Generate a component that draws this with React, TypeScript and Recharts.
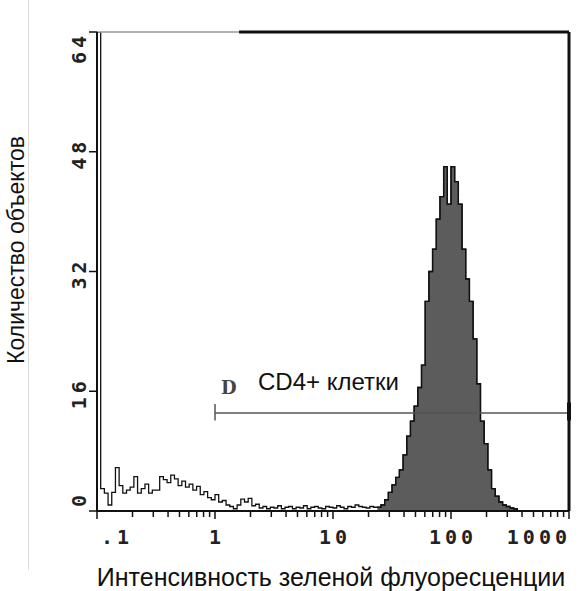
import React from "react";
import {
  Area,
  ComposedChart,
  ReferenceLine,
  XAxis,
  YAxis,
} from "recharts";

// 32 log channels per decade, channel 0 = 0.1
const CHANNELS_PER_DECADE = 32;

// counts, channels 0..75 (outline only, below the peak)
const LOW_COUNTS = [
  64, 3.0, 2.4, 0.8, 2.5, 5.8, 3.4, 2.4, 2.8, 3.2, 4.6, 2.4, 3.0, 3.6, 2.4, 2.8,
  2.8, 4.6, 4.2, 3.8, 4.8, 4.3, 3.4, 4.0, 3.2, 3.6, 2.8, 3.3, 2.2, 2.6, 1.8, 1.5,
  2.2, 1.2, 1.4, 0.8, 0.6, 0.3, 0.8, 1.6, 1.2, 1.7, 0.7, 0.9, 0.4, 0.6, 0.3, 0.5,
  0.4, 0.7, 0.3, 0.5, 0.6, 0.3, 0.5, 0.4, 0.7, 0.3, 0.5, 0.6, 0.4, 0.3, 0.6, 0.5,
  0.4, 0.7, 0.5, 0.3, 0.6, 0.5, 0.8, 0.6, 0.5, 0.4, 0.6, 0.5,
];

// counts, channels 76..114 (the shaded CD4+ peak)
const PEAK_COUNTS = [
  0.5, 0.8, 1.5, 2.5, 3.5, 4.5, 5.5, 7.5, 10, 12, 14, 16.5, 19.5, 28, 32, 35,
  39, 42, 46, 41, 46, 44, 41, 35, 31, 28, 23, 17, 12, 9, 5.5, 3, 2, 1.2, 0.8,
  0.6, 0.4, 0.3, 0,
];

// counts, channels 115..128
const TAIL_COUNTS = [0, 0, 0, 0, 0, 0, 0, 0, 0, 0, 0, 0, 0, 0];

const MAJOR_TICKS = [0.1, 1, 10, 100, 1000];
const X_TICK_LABELS = [".1", "1", "10", "100", "1000"];
const Y_TICKS = [0, 16, 32, 48, 64];

const GATE_LEVEL = 13.1;
const GATE_FROM = 1;
const GATE_TO = 1000;

const PEAK_START = LOW_COUNTS.length;
const PEAK_END = PEAK_START + PEAK_COUNTS.length - 1;

const rows = [...LOW_COUNTS, ...PEAK_COUNTS, ...TAIL_COUNTS].map((c, k) => ({
  x: Math.pow(10, k / CHANNELS_PER_DECADE - 1),
  all: c,
  gated: k >= PEAK_START && k <= PEAK_END ? c : null,
}));

const minorTicks = MAJOR_TICKS.slice(0, -1).flatMap((d) =>
  [2, 3, 4, 5, 6, 7, 8, 9].map((m) => Number((d * m).toPrecision(3)))
);
const allXTicks = [...MAJOR_TICKS, ...minorTicks].sort((a, b) => a - b);

const TICK_FONT = "'DejaVu Sans Mono', monospace";

function XTick(props: any) {
  const { x, y, payload } = props;
  const i = MAJOR_TICKS.indexOf(payload.value);
  const major = i >= 0;
  const anchor = i === 0 ? "start" : i === MAJOR_TICKS.length - 1 ? "end" : "middle";
  const dx = i === 0 ? 4 : 2;
  return (
    <g>
      <line x1={x} x2={x} y1={y} y2={y + (major ? 8 : 6)} stroke="#111" strokeWidth={1.5} />
      {major && (
        <text
          x={x + dx}
          y={y + 33}
          textAnchor={anchor}
          fontFamily={TICK_FONT}
          fontWeight="bold"
          fontSize={20}
          letterSpacing={4}
          fill="#222"
        >
          {X_TICK_LABELS[i]}
        </text>
      )}
    </g>
  );
}

function YTick(props: any) {
  const { x, y, payload } = props;
  const i = Y_TICKS.indexOf(payload.value);
  const anchor = i === 0 ? "start" : i === Y_TICKS.length - 1 ? "end" : "middle";
  const dy = i === 0 ? -4 : i === Y_TICKS.length - 1 ? 0 : 2;
  const cx = x - 18;
  const cy = y + dy;
  return (
    <g>
      <line x1={x - 8} x2={x} y1={y} y2={y} stroke="#111" strokeWidth={1.5} />
      <text
        x={cx}
        y={cy}
        transform={`rotate(-90, ${cx}, ${cy})`}
        textAnchor={anchor}
        dominantBaseline="central"
        fontFamily={TICK_FONT}
        fontWeight="bold"
        fontSize={20}
        letterSpacing={4}
        fill="#222"
      >
        {payload.value}
      </text>
    </g>
  );
}

export default function App() {
  return (
    <div
      style={{
        position: "absolute",
        left: 0,
        top: 0,
        width: 582,
        height: 591,
        background: "#fff",
        fontFamily: "'Liberation Sans', Arial, sans-serif",
      }}
    >
      <div
        style={{
          position: "absolute",
          left: 28,
          top: 0,
          width: 1,
          height: 570,
          background: "#dcdcdc",
        }}
      />
      <ComposedChart
        width={582}
        height={591}
        data={rows}
        margin={{ top: 32, right: 13, left: 57, bottom: 40 }}
      >
        <XAxis
          dataKey="x"
          type="number"
          scale="log"
          domain={[0.1, 1000]}
          allowDataOverflow
          ticks={allXTicks}
          interval={0}
          tick={<XTick />}
          tickSize={0}
          tickMargin={0}
          tickLine={false}
          axisLine={{ stroke: "#111", strokeWidth: 2 }}
          height={40}
        />
        <YAxis
          type="number"
          domain={[0, 64]}
          allowDataOverflow
          ticks={Y_TICKS}
          interval={0}
          tick={<YTick />}
          tickSize={0}
          tickMargin={0}
          tickLine={false}
          axisLine={{ stroke: "#111", strokeWidth: 2 }}
          width={40}
        />
        <Area
          dataKey="gated"
          type="stepAfter"
          fill="#5c5c5c"
          fillOpacity={1}
          stroke="#111"
          strokeWidth={1.3}
          dot={false}
          activeDot={false}
          isAnimationActive={false}
        />
        <Area
          dataKey="all"
          type="stepAfter"
          fill="none"
          stroke="#111"
          strokeWidth={1.3}
          dot={false}
          activeDot={false}
          isAnimationActive={false}
        />
        <ReferenceLine
          segment={[{ x: 0.1, y: 64 }, { x: 1.6, y: 64 }]}
          stroke="#999"
          strokeWidth={1.5}
        />
        <ReferenceLine
          segment={[{ x: 1.6, y: 64 }, { x: 1000, y: 64 }]}
          stroke="#111"
          strokeWidth={3}
        />
        <ReferenceLine
          segment={[{ x: 1000, y: 0 }, { x: 1000, y: 64 }]}
          stroke="#111"
          strokeWidth={3}
        />
        <ReferenceLine
          segment={[{ x: GATE_FROM, y: GATE_LEVEL }, { x: GATE_TO, y: GATE_LEVEL }]}
          stroke="#555"
          strokeWidth={1.5}
        />
        <ReferenceLine
          segment={[{ x: GATE_FROM, y: 12.1 }, { x: GATE_FROM, y: 14.3 }]}
          stroke="#555"
          strokeWidth={1.5}
        />
        <ReferenceLine
          segment={[{ x: GATE_TO, y: 12.1 }, { x: GATE_TO, y: 14.5 }]}
          stroke="#111"
          strokeWidth={4}
        />
      </ComposedChart>
      <div
        style={{
          position: "absolute",
          left: 221,
          top: 377,
          fontFamily: "'DejaVu Serif', serif",
          fontWeight: "bold",
          fontSize: 18,
          color: "#444",
        }}
      >
        D
      </div>
      <div
        style={{
          position: "absolute",
          left: 258,
          top: 368,
          fontSize: 24,
          color: "#111",
          whiteSpace: "nowrap",
        }}
      >
        CD4+ клетки
      </div>
      <div
        style={{
          position: "absolute",
          left: 16,
          top: 250,
          transform: "translate(-50%, -50%) rotate(-90deg)",
          fontSize: 23,
          lineHeight: "26px",
          color: "#111",
          whiteSpace: "nowrap",
        }}
      >
        Количество объектов
      </div>
      <div
        style={{
          position: "absolute",
          left: 331,
          top: 564,
          transform: "translateX(-50%)",
          fontSize: 25,
          lineHeight: "26px",
          color: "#111",
          whiteSpace: "nowrap",
        }}
      >
        Интенсивность зеленой флуоресценции
      </div>
    </div>
  );
}
